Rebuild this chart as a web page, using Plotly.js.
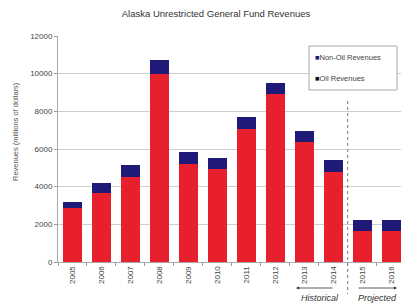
<!DOCTYPE html>
<html>
<head>
<meta charset="utf-8">
<script src="https://cdn.plot.ly/plotly-3.0.1.min.js"></script>
<style>html,body{margin:0;padding:0;background:#fff;}#chart{width:401px;height:306px;}</style>
</head>
<body>
<div id="chart"></div>
<script>
var years = ['2005','2006','2007','2008','2009','2010','2011','2012','2013','2014','2015','2016'];
var oilRevenues = [2850, 3680, 4490, 9970, 5180, 4920, 7060, 8900, 6370, 4760, 1660, 1650];
var nonOilRevenues = [320, 530, 660, 780, 660, 610, 620, 580, 580, 650, 550, 560];
var yTicks = [0, 2000, 4000, 6000, 8000, 10000, 12000];

var FONT = 'Liberation Sans, Arial, sans-serif';
var W = 401, H = 306, ML = 58, MT = 36, MB = 44, MR = 0;
var xRange = [-0.5, 11.34];
var pw = W - ML - MR, ph = H - MT - MB;
function px(x){ return (x - ML) / pw; }
function py(y){ return (H - MB - y) / ph; }
function catPaper(c){ return (c - xRange[0]) / (xRange[1] - xRange[0]); }

var traces = [
  {type:'bar', name:'Oil Revenues', x:years, y:oilRevenues, marker:{color:'#e8202e'}, hoverinfo:'none'},
  {type:'bar', name:'Non-Oil Revenues', x:years, y:nonOilRevenues, marker:{color:'#1f1a78'}, hoverinfo:'none'}
];

var divX = catPaper(9.5);

var layout = {
  width:W, height:H,
  margin:{l:ML, r:MR, t:MT, b:MB, pad:0},
  paper_bgcolor:'#fff', plot_bgcolor:'#fff',
  barmode:'stack', bargap:0.334,
  showlegend:false,
  font:{family:FONT, color:'#444', size:7.5},
  title:{text:'Alaska Unrestricted General Fund Revenues', font:{family:FONT, size:9.5, color:'#333'}, x:216/W, xanchor:'center', y:1-13.5/H, yanchor:'middle'},
  xaxis:{type:'category', range:xRange, tickangle:-90, tickfont:{size:8, color:'#444'},
         ticks:'outside', tickson:'boundaries', ticklen:3, tickcolor:'#999',
         showline:true, linecolor:'#aaa', linewidth:1, showgrid:false, fixedrange:true},
  yaxis:{range:[0,12000], tickvals:yTicks, ticktext:yTicks.map(String), tickfont:{size:8, color:'#444'},
         showgrid:true, gridcolor:'#cfcfcf', gridwidth:1, zeroline:false,
         showline:true, linecolor:'#aaa', linewidth:1, ticks:'outside', ticklen:3, tickcolor:'#999', fixedrange:true},
  shapes:[
    {type:'line', xref:'paper', yref:'paper', x0:divX, x1:divX, y0:py(101), y1:py(294),
     line:{color:'#777', width:1, dash:'dot'}},
    {type:'rect', xref:'paper', yref:'paper', x0:px(309), x1:px(397), y0:py(46), y1:py(90),
     line:{color:'#aaa', width:1}, fillcolor:'#fff', layer:'above'}
  ],
  annotations:[
    {xref:'paper', yref:'paper', x:-43/pw, y:py(131), text:'Revenues (millions of dollars)', textangle:-90,
     showarrow:false, font:{size:7.5, color:'#555'}, xanchor:'center', yanchor:'middle'},
    {xref:'paper', yref:'paper', x:px(313), y:py(57), text:'<span style="color:#1f1a78">■</span>Non-Oil Revenues',
     showarrow:false, xanchor:'left', yanchor:'middle', font:{size:7.5, color:'#444'}},
    {xref:'paper', yref:'paper', x:px(313), y:py(78), text:'<span style="color:#111">■</span>Oil Revenues',
     showarrow:false, xanchor:'left', yanchor:'middle', font:{size:7.5, color:'#444'}},
    {xref:'paper', yref:'paper', x:px(320), y:py(298), text:'<i>Historical</i>',
     showarrow:false, xanchor:'center', yanchor:'middle', font:{size:9, color:'#333'}},
    {xref:'paper', yref:'paper', x:px(377), y:py(298), text:'<i>Projected</i>',
     showarrow:false, xanchor:'center', yanchor:'middle', font:{size:9, color:'#333'}},
    {xref:'paper', yref:'paper', x:px(296), y:py(288), ax:38, ay:0, text:'',
     showarrow:true, arrowhead:2, arrowsize:0.8, arrowwidth:0.8, arrowcolor:'#333'},
    {xref:'paper', yref:'paper', x:px(397), y:py(288), ax:-40, ay:0, text:'',
     showarrow:true, arrowhead:2, arrowsize:0.8, arrowwidth:0.8, arrowcolor:'#333'}
  ]
};

Plotly.newPlot('chart', traces, layout, {staticPlot:true, displayModeBar:false});
</script>
</body>
</html>
